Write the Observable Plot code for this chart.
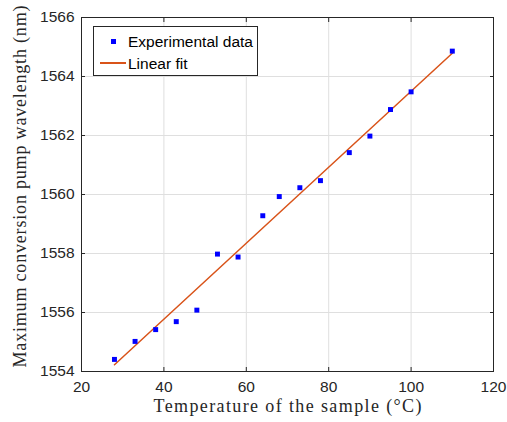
<!DOCTYPE html>
<html>
<head>
<meta charset="utf-8">
<script src="https://cdn.jsdelivr.net/npm/d3@7"></script>
<script src="https://cdn.jsdelivr.net/npm/@observablehq/plot@0.6"></script>
<style>
  body { margin: 0; background: #fff; }
  #wrap { position: relative; width: 507px; height: 422px; overflow: hidden; }
  #legend { position: absolute; left: 93px; top: 26px; width: 165px; height: 50px;
    border: 1px solid #262626; background: #fff; box-sizing: border-box;
    font-family: "Liberation Sans", Arial, sans-serif; font-size: 15.5px; color: #000; }
  #legend .lbl { position: absolute; left: 34px; line-height: 18px; white-space: nowrap; }
  #legend .mk { position: absolute; width: 5px; height: 5px; background: #0000ff; }
  #legend .ln { position: absolute; height: 1.5px; background: #D95319; }
</style>
</head>
<body>
<div id="wrap">
  <div id="chart"></div>
  <div id="legend"></div>
</div>
<script>
// Data
const temperature = [28, 33, 38, 43, 48, 53, 58, 64, 68, 73, 78, 85, 90, 95, 100, 110];
const wavelength = [1554.41, 1555.02, 1555.42, 1555.69, 1556.08, 1557.98, 1557.88, 1559.28,
                    1559.93, 1560.23, 1560.47, 1561.42, 1561.98, 1562.88, 1563.48, 1564.86];
const fitTemperature = [28, 110];
const fitWavelength = [1554.23, 1564.79];
const xTicks = [20, 40, 60, 80, 100, 120];
const yTicks = [1554, 1556, 1558, 1560, 1562, 1564, 1566];
const xLabel = "Temperature of the sample (°C)";
const yLabel = "Maximum conversion pump wavelength (nm)";
const seriesNames = ["Experimental data", "Linear fit"];

const points = temperature.map((t, i) => ({t, w: wavelength[i]}));
const fit = fitTemperature.map((t, i) => ({t, w: fitWavelength[i]}));

const sans = '"Liberation Sans", Arial, sans-serif';
const serif = '"Liberation Serif", "DejaVu Serif", serif';
const axisColor = "#262626";
const gridColor = "#dfdfdf";
const none = () => "";
const fmt = d => String(d);

const chart = Plot.plot({
  width: 507, height: 422,
  marginLeft: 81, marginRight: 14, marginTop: 17, marginBottom: 51,
  x: {domain: [20, 120]},
  y: {domain: [1554, 1566]},
  style: {fontFamily: sans, fontSize: "15.5px", color: axisColor, background: "#fff"},
  marks: [
    Plot.gridX(xTicks, {stroke: gridColor, strokeOpacity: 1}),
    Plot.gridY(yTicks, {stroke: gridColor, strokeOpacity: 1}),
    Plot.line(fit, {x: "t", y: "w", stroke: "#D95319", strokeWidth: 1.5}),
    Plot.dot(points, {x: "t", y: "w", symbol: "square", r: 2.8, fill: "#0000ff", stroke: "none"}),
    Plot.frame({stroke: axisColor}),
    Plot.axisX(xTicks, {anchor: "bottom", tickSize: 0, tickPadding: 9, tickFormat: fmt, label: null}),
    Plot.axisX(xTicks, {anchor: "bottom", tickSize: -4, tickFormat: none, label: null}),
    Plot.axisX(xTicks, {anchor: "top", tickSize: -4, tickFormat: none, label: null}),
    Plot.axisY(yTicks, {anchor: "left", tickSize: 0, tickPadding: 7, tickFormat: fmt, label: null}),
    Plot.axisY(yTicks, {anchor: "left", tickSize: -4, tickFormat: none, label: null}),
    Plot.axisY(yTicks, {anchor: "right", tickSize: -4, tickFormat: none, label: null}),
    Plot.text([xLabel], {text: d => d, frameAnchor: "bottom", dy: 35, lineAnchor: "middle",
      textAnchor: "middle", fontFamily: serif, fontSize: 18, fill: axisColor}),
    Plot.text([yLabel], {text: d => d, frameAnchor: "left", rotate: -90, dx: -61, dy: -8,
      lineAnchor: "middle", textAnchor: "middle", fontFamily: serif, fontSize: 18, fill: axisColor})
  ]
});
document.getElementById("chart").appendChild(chart);

// Stretch the serif axis titles to the widths of the LaTeX titles in the reference
const titleWidths = new Map([[xLabel, 268], [yLabel, 362]]);
d3.select(chart).selectAll("text").each(function() {
  const w = titleWidths.get(this.textContent);
  if (w) d3.select(this).attr("textLength", w).attr("lengthAdjust", "spacing");
});

// Legend
const lg = document.getElementById("legend");
lg.innerHTML =
  `<div class="mk" style="left:17px;top:12px"></div>` +
  `<div class="lbl" style="top:6px">${seriesNames[0]}</div>` +
  `<div class="ln" style="left:6px;width:26px;top:35px"></div>` +
  `<div class="lbl" style="top:28px">${seriesNames[1]}</div>`;
</script>
</body>
</html>
